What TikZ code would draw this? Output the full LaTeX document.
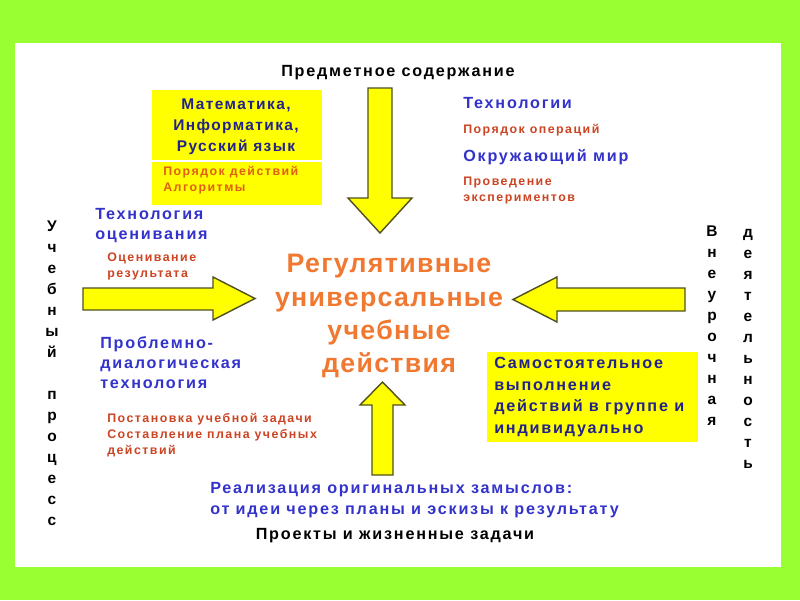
\documentclass[tikz,border=0pt]{standalone}
\usepackage{fontspec}
\setmainfont{Liberation Sans}
\definecolor{frame}{HTML}{99FF33}
\definecolor{boxyellow}{HTML}{FFFF00}
\definecolor{navy}{HTML}{22228C}
\definecolor{techblue}{HTML}{3333CC}
\definecolor{note}{HTML}{CC4422}
\definecolor{boxnote}{HTML}{E06010}
\definecolor{ruud}{HTML}{F07830}
\definecolor{rim}{HTML}{505020}
\newcommand{\spaced}[1]{\addfontfeature{LetterSpace=#1}}
\tikzset{
  bigtxt/.style = {font=\bfseries\fontsize{11.5}{14}\selectfont\spaced{11}},
  bluetxt/.style = {font=\bfseries\fontsize{11.5}{14.2}\selectfont\spaced{11},
    text=techblue, align=left, anchor=west, inner sep=0pt},
  notetxt/.style = {font=\bfseries\fontsize{8.8}{11.4}\selectfont\spaced{12},
    text=note, align=left, anchor=west, inner sep=0pt},
  column/.style = {font=\bfseries\fontsize{11}{14.93}\selectfont,
    align=center, inner sep=0pt},
  yellowbox/.style = {fill=boxyellow, draw=none},
  blockarrow/.style = {fill=boxyellow, draw=rim, line width=1pt,
    line join=miter}
}

\begin{document}
\begin{tikzpicture}[x=0.025cm,y=-0.025cm]
  \fill[frame] (0,0) rectangle (800,600);
  \fill[white] (15,43) rectangle (781,567);
  \useasboundingbox (0,0) rectangle (800,600);

  % yellow boxes
  \fill[yellowbox] (152,90) rectangle (322,160);
  \fill[yellowbox] (152,162) rectangle (322,205);
  \fill[yellowbox] (487,352) rectangle (698,442);

  % arrows
  \draw[blockarrow] (368,88) -- (392,88) -- (392,198) -- (412,198)
    -- (380,233) -- (348,198) -- (368,198) -- cycle;
  \draw[blockarrow] (372,475) -- (393,475) -- (393,405) -- (405,405)
    -- (382.5,382) -- (360,405) -- (372,405) -- cycle;
  \draw[blockarrow] (83,288) -- (213,288) -- (213,277) -- (255,298.5)
    -- (213,320) -- (213,310) -- (83,310) -- cycle;
  \draw[blockarrow] (685,288) -- (557,288) -- (557,277) -- (513,299.5)
    -- (557,322) -- (557,311) -- (685,311) -- cycle;

  \node[bigtxt, anchor=base] (subject) at (398,76) {Предметное содержание};
  \node[font=\bfseries\fontsize{19}{23.5}\selectfont\spaced{5}, text=ruud,
    align=center] (ruud) at (389,316)
    {Регулятивные\\универсальные\\учебные\\действия};

  \node[font=\bfseries\fontsize{11}{15}\selectfont\spaced{9}, text=navy,
    align=center] (math) at (236,127)
    {Математика,\\Информатика,\\Русский язык};
  \node[notetxt, text=boxnote] (algo) at (163,180)
    {Порядок действий\\Алгоритмы};

  \node[bluetxt] (tech) at (463,103) {Технологии};
  \node[notetxt] (oper) at (463,130) {Порядок операций};
  \node[bluetxt] (world) at (463,157) {Окружающий мир};
  \node[notetxt] (exper) at (463,191) {Проведение\\экспериментов};

  \node[bluetxt] (assess) at (95,226) {Технология\\оценивания};
  \node[notetxt] (result) at (107,266) {Оценивание\\результата};
  \node[bluetxt] (dialog) at (100,363)
    {Проблемно-\\диалогическая\\технология};
  \node[notetxt] (task) at (107,435)
    {Постановка учебной задачи\\Составление плана учебных\\действий};

  \node[bluetxt, text=navy,
    font=\bfseries\fontsize{11.5}{15.4}\selectfont\spaced{11}]
    (self) at (494,397)
    {Самостоятельное\\выполнение\\действий в группе и\\индивидуально};

  \node[bluetxt, font=\bfseries\fontsize{11.5}{14.93}\selectfont\spaced{11}]
    (idea) at (210,500)
    {Реализация оригинальных замыслов:\\от идеи через планы и эскизы к результату};
  \node[bigtxt] (proj) at (395,536) {Проекты и жизненные задачи};

  \node[column] (school) at (52,373)
    {У\\ч\\е\\б\\н\\ы\\й\\\mbox{}\\п\\р\\о\\ц\\е\\с\\с};
  \node[column] (extra) at (712,326) {В\\н\\е\\у\\р\\о\\ч\\н\\а\\я};
  \node[column] (activ) at (748,348.5)
    {д\\е\\я\\т\\е\\л\\ь\\н\\о\\с\\т\\ь};
\end{tikzpicture}
\end{document}
